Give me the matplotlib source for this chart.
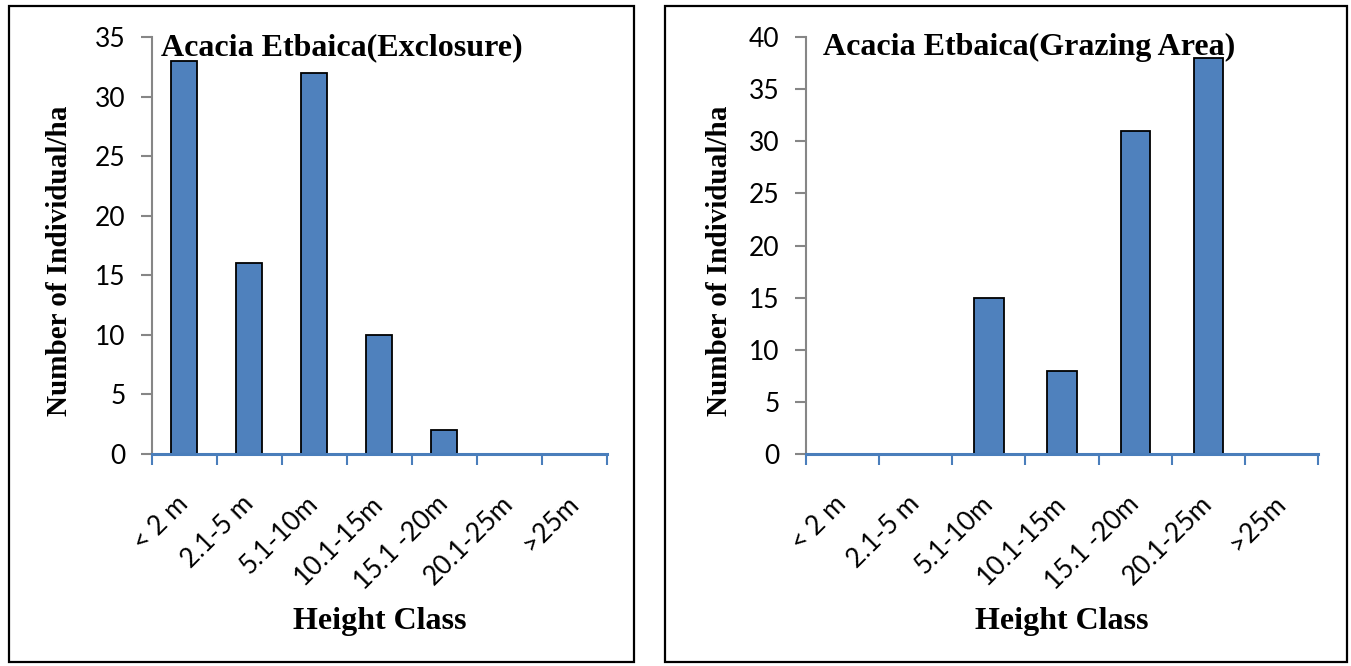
import matplotlib.pyplot as plt
from matplotlib.patches import Rectangle

classes = ['< 2 m', '2.1-5 m', '5.1-10m', '10.1-15m', '15.1 -20m', '20.1-25m', '>25m']
exclosure = [33, 16, 32, 10, 2, 0, 0]
grazing = [0, 0, 15, 8, 31, 38, 0]

bar_color = '#4F81BD'
axis_blue = '#4A7EBB'
axis_gray = '#868686'
serif = ['Liberation Serif', 'DejaVu Serif']
sans = ['Lato', 'DejaVu Sans']

fig = plt.figure(figsize=(13.51, 6.66), dpi=100)

# outer frames around each chart
fig.patches.append(Rectangle((0.0067, 0.006), 0.4626, 0.985, transform=fig.transFigure,
                             fill=False, edgecolor='black', linewidth=1.6))
fig.patches.append(Rectangle((0.4922, 0.006), 0.5048, 0.985, transform=fig.transFigure,
                             fill=False, edgecolor='black', linewidth=1.6))


def draw(ax, values, ymax, title, title_x, ylab_x):
    x = range(len(classes))
    ax.bar(x, values, width=0.4, color=bar_color, edgecolor='black', linewidth=1.3, zorder=3)
    ax.set_xlim(-0.5, len(classes) - 0.5)
    ax.set_ylim(0, ymax)
    ax.set_yticks(range(0, ymax + 1, 5))

    for s in ['top', 'right']:
        ax.spines[s].set_visible(False)
    ax.spines['left'].set_color(axis_gray)
    ax.spines['left'].set_linewidth(1.5)
    ax.spines['bottom'].set_color(axis_blue)
    ax.spines['bottom'].set_linewidth(2.2)
    ax.spines['bottom'].set_zorder(4)

    # labels at category centres, tick marks at the boundaries
    ax.set_xticks(list(x))
    ax.set_xticklabels(classes, rotation=45, ha='right', rotation_mode='anchor',
                       va='center', fontsize=19, fontfamily=sans)
    ax.tick_params(axis='x', which='major', length=0, pad=33)
    ax.set_xticks([i - 0.5 for i in range(len(classes) + 1)], minor=True)
    ax.tick_params(axis='x', which='minor', length=8, width=1.5, color=axis_blue, direction='out')
    ax.tick_params(axis='y', length=8, width=1.5, color=axis_gray, pad=11, labelsize=19)
    for t in ax.get_yticklabels():
        t.set_fontfamily(sans)

    ax.text(title_x, 0.957, title, transform=ax.transAxes, fontsize=23,
            fontweight='bold', fontfamily=serif, va='baseline', ha='left')
    ax.set_ylabel('Number of Individual/ha', fontsize=21, fontweight='bold', fontfamily=serif)
    ax.yaxis.set_label_coords(ylab_x, 0.463)
    ax.set_xlabel('Height Class', fontsize=23, fontweight='bold', fontfamily=serif)
    ax.xaxis.set_label_coords(0.5, -0.368)


ax1 = fig.add_axes([0.1125, 0.3183, 0.3368, 0.6261])
draw(ax1, exclosure, 35, 'Acacia Etbaica(Exclosure)', 0.02, -0.174)

ax2 = fig.add_axes([0.5966, 0.3183, 0.3790, 0.6261])
draw(ax2, grazing, 40, 'Acacia Etbaica(Grazing Area)', 0.033, -0.143)

fig.savefig('out.png', dpi=100)
